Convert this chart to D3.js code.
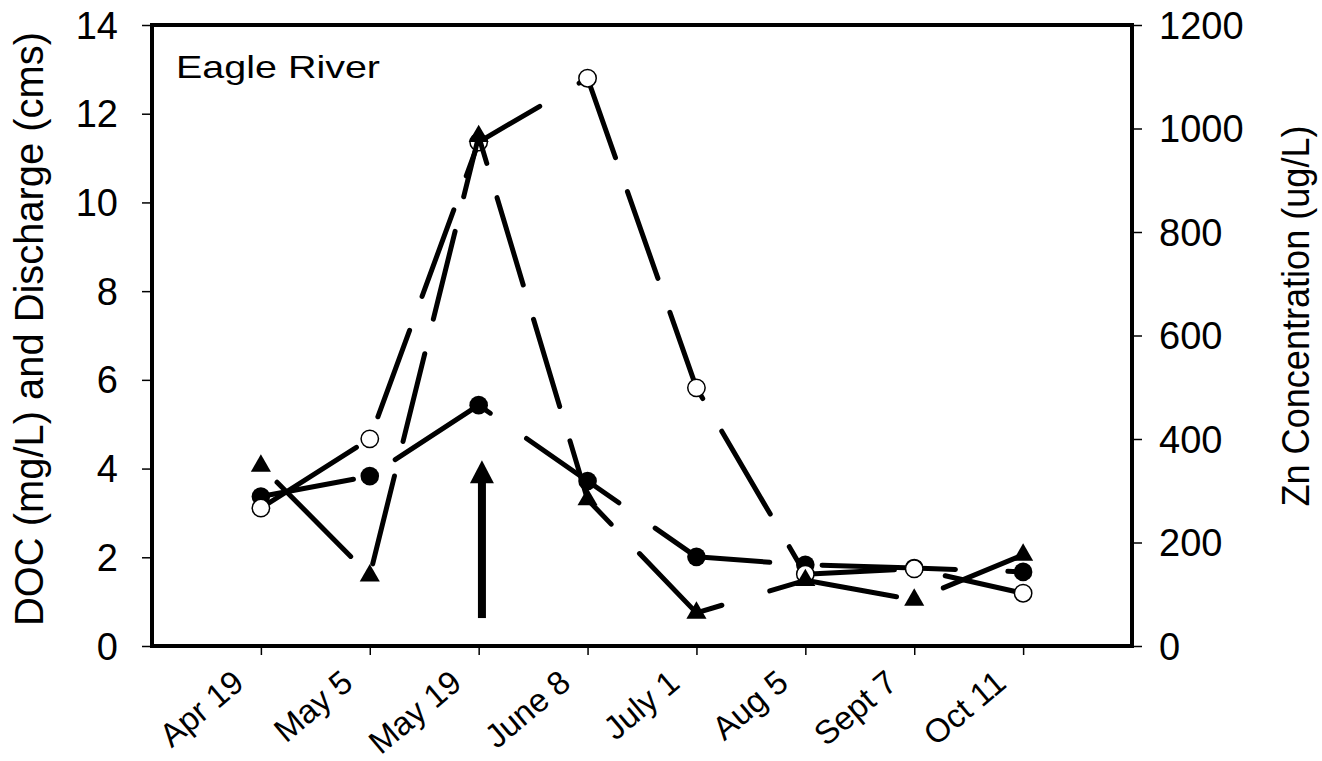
<!DOCTYPE html>
<html>
<head>
<meta charset="utf-8">
<script src="https://cdn.jsdelivr.net/npm/d3@7"></script>
<style>
  html, body { margin: 0; padding: 0; background: #fff; }
  svg { display: block; }
  text { font-family: Arial, "Liberation Sans", Helvetica, sans-serif; fill: #000; }
</style>
</head>
<body>
<svg id="chart" width="1322" height="761"></svg>
<script>
// ---- data ----
const categories = ["Apr 19", "May 5", "May 19", "June 8", "July 1", "Aug 5", "Sept 7", "Oct 11"];
const docValues = [3.37, 3.83, 5.43, 3.72, 2.01, 1.83, 1.76, 1.67];          // DOC (mg/L), left axis
const dischargeValues = [3.11, 4.67, 11.36, 12.8, 5.82, 1.62, 1.74, 1.19];   // Discharge (cms), left axis
const zincValues = [348, 136, 985, 283, 64, 127, 89, 176];                   // Zn (ug/L), right axis
const leftTicks = [0, 2, 4, 6, 8, 10, 12, 14];
const rightTicks = [0, 200, 400, 600, 800, 1000, 1200];
const arrowCategory = "May 19";
const arrowFrom = 0.63, arrowTo = 4.19;   // left-axis units
const panelTitle = "Eagle River";

// ---- layout ----
const svg = d3.select("#chart");
const L = 152, R = 1132, T = 25, B = 646;

const x = d3.scaleLinear().domain([0, categories.length + 1]).range([L, R]);
const xc = c => x(categories.indexOf(c) + 1);
const yL = d3.scaleLinear().domain([0, 14]).range([B, T]);
const yR = d3.scaleLinear().domain([0, 1200]).range([B, T]);

// axes
const leftAxis = d3.axisLeft(yL).tickValues(leftTicks).tickSize(10).tickPadding(24).tickFormat(d3.format("d"));
const gL = svg.append("g").attr("transform", `translate(${L},0)`).call(leftAxis);
const rightAxis = d3.axisRight(yR).tickValues(rightTicks).tickSize(10).tickPadding(17).tickFormat(d3.format("d"));
const gR = svg.append("g").attr("transform", `translate(${R},0)`).call(rightAxis);
const bottomAxis = d3.axisBottom(d3.scalePoint().domain(categories).range([x(1), x(categories.length)]))
  .tickSize(9).tickFormat("");
const gB = svg.append("g").attr("transform", `translate(0,${B})`).call(bottomAxis);

[gL, gR, gB].forEach(g => {
  g.select(".domain").remove();
  g.selectAll(".tick line").attr("stroke", "#000").attr("stroke-width", 1.5);
});
[gL, gR].forEach(g => g.selectAll(".tick text")
  .attr("font-size", 38).attr("dy", null).attr("y", 0)
  .attr("dominant-baseline", "central").attr("font-family", "Arial, 'Liberation Sans', sans-serif"));

// rotated category labels
svg.append("g").selectAll("text").data(categories).join("text")
  .attr("transform", d => `translate(${xc(d) - 15},686) rotate(-40)`)
  .attr("text-anchor", "end")
  .attr("font-size", 33)
  .text(d => d);

// frame
svg.append("rect").attr("x", L).attr("y", T).attr("width", R - L).attr("height", B - T)
  .attr("fill", "none").attr("stroke", "#000").attr("stroke-width", 4);

// axis titles
svg.append("text")
  .attr("transform", `translate(43,329) rotate(-90)`)
  .attr("text-anchor", "middle").attr("font-size", 41)
  .attr("textLength", 594).attr("lengthAdjust", "spacingAndGlyphs")
  .text("DOC (mg/L) and Discharge (cms)");
svg.append("text")
  .attr("transform", `translate(1309,316) rotate(-90)`)
  .attr("text-anchor", "middle").attr("font-size", 39.5)
  .attr("textLength", 381).attr("lengthAdjust", "spacingAndGlyphs")
  .text("Zn Concentration (ug/L)");

svg.append("text").attr("x", 176).attr("y", 78).attr("font-size", 32)
  .attr("textLength", 204).attr("lengthAdjust", "spacingAndGlyphs")
  .text(panelTitle);

// ---- dashed polyline (dash pattern laid out in a horizontally compressed space) ----
const DASH = 89, GAP = 35, KX = 1.5;
function dashedPath(pts, offset) {
  const segs = [];
  let cum = 0;
  for (let i = 0; i < pts.length - 1; i++) {
    const [x0, y0] = pts[i], [x1, y1] = pts[i + 1];
    const len = Math.hypot((x1 - x0) / KX, y1 - y0);
    segs.push({ x0, y0, x1, y1, start: cum, len });
    cum += len;
  }
  const total = cum;
  const at = u => {
    for (const s of segs) {
      if (u <= s.start + s.len || s === segs[segs.length - 1]) {
        const f = s.len ? Math.max(0, Math.min(1, (u - s.start) / s.len)) : 0;
        return [s.x0 + (s.x1 - s.x0) * f, s.y0 + (s.y1 - s.y0) * f];
      }
    }
  };
  const period = DASH + GAP;
  let d = "";
  for (let n = Math.floor(offset / period) - 1; n * period - offset < total; n++) {
    let a = n * period - offset, b = a + DASH;
    a = Math.max(0, a); b = Math.min(total, b);
    if (b <= a) continue;
    const p = [at(a)];
    segs.forEach(s => { if (s.start > a && s.start < b) p.push([s.x0, s.y0]); });
    p.push(at(b));
    d += "M" + p.map(q => q[0].toFixed(2) + "," + q[1].toFixed(2)).join("L");
  }
  return d;
}

// ---- series ----
const series = [
  { values: docValues, y: yL, marker: "filled", offset: 24.9 },
  { values: dischargeValues, y: yL, marker: "open", offset: 1 },
  { values: zincValues, y: yR, marker: "triangle", offset: 104.5 }
];

const plot = svg.append("g");
series.forEach(s => {
  const pts = categories.map((c, i) => [xc(c), s.y(s.values[i])]);
  plot.append("path")
    .attr("d", dashedPath(pts, s.offset))
    .attr("fill", "none").attr("stroke", "#000").attr("stroke-width", 5)
    .attr("stroke-linecap", "round").attr("stroke-linejoin", "round");
  const g = plot.append("g");
  if (s.marker === "filled") {
    g.selectAll("circle").data(pts).join("circle")
      .attr("cx", d => d[0]).attr("cy", d => d[1]).attr("r", 9.3).attr("fill", "#000");
  } else if (s.marker === "open") {
    g.selectAll("circle").data(pts).join("circle")
      .attr("cx", d => d[0]).attr("cy", d => d[1]).attr("r", 8.7)
      .attr("fill", "#fff").attr("stroke", "#000").attr("stroke-width", 1.5);
  } else {
    const tri = d3.symbol().type(d3.symbolTriangle).size(175);
    g.selectAll("path").data(pts).join("path")
      .attr("transform", d => `translate(${d[0]},${d[1]})`)
      .attr("d", tri).attr("fill", "#000");
  }
});

// ---- arrow annotation ----
const ax = xc(arrowCategory) + 0.03 * (x(1) - x(0));
const yTip = yL(arrowTo), yBase = yL(arrowFrom);
const headH = 23, headW = 24, shaft = 8;
svg.append("rect").attr("x", ax - shaft / 2).attr("y", yTip + headH - 2)
  .attr("width", shaft).attr("height", yBase - (yTip + headH - 2)).attr("fill", "#000");
svg.append("path")
  .attr("d", `M${ax},${yTip} L${ax + headW / 2},${yTip + headH} L${ax - headW / 2},${yTip + headH} Z`)
  .attr("fill", "#000");
</script>
</body>
</html>
